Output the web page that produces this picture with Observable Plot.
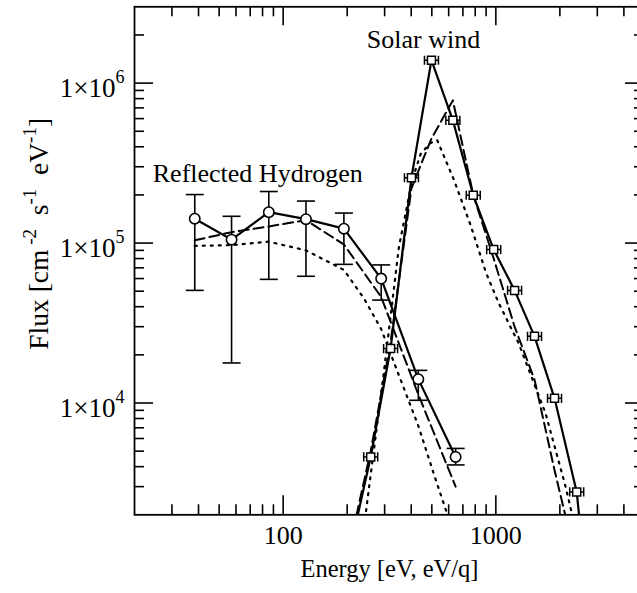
<!DOCTYPE html>
<html><head><meta charset="utf-8">
<script src="https://cdn.jsdelivr.net/npm/d3@7"></script>
<script src="https://cdn.jsdelivr.net/npm/@observablehq/plot@0.6"></script>
<style>html,body{margin:0;padding:0;background:#fff;overflow:hidden}</style>
</head><body><div id="chart"></div>
<script>
// ---- data ----
const reflEnergy   = [38.4, 57.2, 85.6, 128, 193, 289, 432, 647];
const reflFlux     = [1.42e5, 1.05e5, 1.56e5, 1.41e5, 1.23e5, 6.0e4, 1.41e4, 4.6e3];
const reflErrHigh  = [2.01e5, 1.47e5, 2.10e5, 1.83e5, 1.54e5, 7.3e4, 1.60e4, 5.2e3];
const reflErrLow   = [5.06e4, 1.78e4, 5.93e4, 6.2e4, 7.36e4, 4.4e4, 1.04e4, 4.1e3];
const reflModelA   = [1.04e5, 1.17e5, 1.27e5, 1.39e5, 9.8e4, 4.6e4, 1.13e4, 3.0e3];
const reflModelBEnergy = [38.4, 57.2, 85.6, 128, 193, 240, 289, 343, 432, 511, 600];
const reflModelB       = [9.6e4, 9.7e4, 1.02e5, 9.0e4, 6.8e4, 4.5e4, 2.9e4, 1.6e4, 7.2e3, 3.6e3, 1.9e3];

const swEnergy = [206, 258, 320, 401, 498, 628, 783, 977, 1225, 1520, 1888, 2400, 3000];
const swFlux   = [1.2e3, 4.6e3, 2.19e4, 2.56e5, 1.39e6, 5.85e5, 1.99e5, 9.1e4, 5.06e4, 2.61e4, 1.07e4, 2.78e3, 1.5e2];
const swModelA = [1.3e3, 5.0e3, 2.4e4, 2.2e5, 4.5e5, 7.8e5, 2.0e5, 8.0e4, 3.0e4, 1.4e4, 3.8e3, 1.0e3, 1.0e2];
const swModelBEnergy = [220, 244, 297, 350, 404, 443, 490, 530, 634, 760, 900, 1033, 1282, 1714, 2128, 2500];
const swModelB       = [6e2, 2.0e3, 1.53e4, 9.4e4, 2.47e5, 3.6e5, 4.2e5, 4.4e5, 2.5e5, 1.3e5, 6.5e4, 4.2e4, 2.35e4, 8.6e3, 3.0e3, 1.2e3];

const annotations = [
  {label: "Solar wind", x: 457, y: 1.65e6},
  {label: "Reflected Hydrogen", x: 76, y: 2.4e5}
];

const xDomain = [20, 5000];
const yDomain = [2000, 3e6];
const xMajor = [100, 1000];
const xMinor = [30, 40, 50, 60, 70, 80, 90, 200, 300, 400, 500, 600, 700, 800, 900, 2000, 3000, 4000];
const yMajor = [1e4, 1e5, 1e6];
const yMinor = [3e3, 4e3, 5e3, 6e3, 7e3, 8e3, 9e3, 2e4, 3e4, 4e4, 5e4, 6e4, 7e4, 8e4, 9e4,
                2e5, 3e5, 4e5, 5e5, 6e5, 7e5, 8e5, 9e5, 2e6];
const xTitle = "Energy [eV, eV/q]";
const yTitleParts = [["Flux [cm", false], [" -2", true], ["  s", false], ["-1", true], ["  eV", false], ["-1", true], ["]", false]];

// ---- layout ----
const W = 637, H = 593;
const mL = 134, mR = -7, mT = 6.3, mB = 78.7;
const plotW = W - mL - mR, plotH = H - mT - mB;
const MAJ = 19, MIN = 10;
const FONT = "Liberation Serif, Times New Roman, serif";
const FS = 26;

const refl = reflEnergy.map((e, i) => ({e, f: reflFlux[i], lo: reflErrLow[i], hi: reflErrHigh[i], m: reflModelA[i]}));
const reflB = reflModelBEnergy.map((e, i) => ({e, f: reflModelB[i]}));
const sw = swEnergy.map((e, i) => ({e, f: swFlux[i], m: swModelA[i]}));
const swB = swModelBEnergy.map((e, i) => ({e, f: swModelB[i]}));

const capSymbol = {draw(ctx) { ctx.moveTo(-9, 0); ctx.lineTo(9, 0); }};
const sqSymbol = {draw(ctx) {
  const s = 4, b = 7, c = 4.6;
  ctx.moveTo(-s, -s); ctx.lineTo(s, -s); ctx.lineTo(s, s); ctx.lineTo(-s, s); ctx.closePath();
  ctx.moveTo(-b, 0); ctx.lineTo(-s, 0); ctx.moveTo(s, 0); ctx.lineTo(b, 0);
  ctx.moveTo(-b, -c); ctx.lineTo(-b, c); ctx.moveTo(b, -c); ctx.lineTo(b, c);
}};

const lineStyle = {stroke: "black", strokeWidth: 2.2, clip: true};
const dashed = {...lineStyle, strokeWidth: 2, strokeDasharray: "10,5"};
const dotted = {...lineStyle, strokeWidth: 2.2, strokeDasharray: "2,6"};
const tick = {stroke: "black", strokeWidth: 1.6};

const plot = Plot.plot({
  width: W, height: H,
  marginLeft: mL, marginRight: mR, marginTop: mT, marginBottom: mB,
  x: {type: "log", domain: xDomain, axis: null},
  y: {type: "log", domain: yDomain, axis: null},
  style: {fontFamily: FONT, background: "white", color: "black"},
  marks: [
    // ticks on all four sides, pointing inward
    Plot.tickX(xMajor, {x: d => d, insetTop: plotH - MAJ, ...tick}),
    Plot.tickX(xMinor, {x: d => d, insetTop: plotH - MIN, ...tick}),
    Plot.tickX(xMajor, {x: d => d, insetBottom: plotH - MAJ, ...tick}),
    Plot.tickX(xMinor, {x: d => d, insetBottom: plotH - MIN, ...tick}),
    Plot.tickY(yMajor, {y: d => d, insetRight: plotW - MAJ, ...tick}),
    Plot.tickY(yMinor, {y: d => d, insetRight: plotW - MIN, ...tick}),
    Plot.tickY(yMajor, {y: d => d, insetLeft: plotW - MAJ, ...tick}),
    Plot.tickY(yMinor, {y: d => d, insetLeft: plotW - MIN, ...tick}),
    Plot.frame({stroke: "black", strokeWidth: 1.8}),

    // model curves
    Plot.line(reflB, {x: "e", y: "f", ...dotted}),
    Plot.line(swB, {x: "e", y: "f", ...dotted}),
    Plot.line(refl, {x: "e", y: "m", ...dashed}),
    Plot.line(sw, {x: "e", y: "m", ...dashed}),

    // observed
    Plot.line(refl, {x: "e", y: "f", ...lineStyle}),
    Plot.line(sw, {x: "e", y: "f", ...lineStyle}),
    Plot.ruleX(refl, {x: "e", y1: "lo", y2: "hi", stroke: "black", strokeWidth: 1.6}),
    Plot.dot(refl, {x: "e", y: "hi", symbol: capSymbol, stroke: "black", strokeWidth: 1.6, fill: "none"}),
    Plot.dot(refl, {x: "e", y: "lo", symbol: capSymbol, stroke: "black", strokeWidth: 1.6, fill: "none"}),
    Plot.dot(refl, {x: "e", y: "f", r: 5.2, fill: "white", stroke: "black", strokeWidth: 1.6}),
    Plot.dot(sw.filter(d => d.f >= yDomain[0]), {x: "e", y: "f", symbol: sqSymbol, fill: "white", stroke: "black", strokeWidth: 1.5}),

    // annotations
    Plot.text(annotations, {x: "x", y: "y", text: "label", textAnchor: "middle", lineAnchor: "bottom", fontSize: FS, fill: "black"}),

    // tick labels
    Plot.text(xMajor, {x: d => d, frameAnchor: "bottom", lineAnchor: "top", dy: 11, text: d => String(d), fontSize: FS, fill: "black"}),
    Plot.text(yMajor, {y: d => d, frameAnchor: "left", textAnchor: "end", lineAnchor: "bottom", dx: -10, dy: 14,
      text: d => "1×10^" + Math.round(Math.log10(d)), fontSize: 27, fill: "black"}),

    // axis titles
    Plot.text([xTitle], {frameAnchor: "bottom", lineAnchor: "bottom", dy: 62.5, text: d => d, fontSize: 24.5, fill: "black"}),
    Plot.text([yTitleParts.map(p => p[0]).join("")], {frameAnchor: "left", rotate: -90, textAnchor: "middle", lineAnchor: "bottom",
      dx: -87, dy: -27, text: d => d, fontSize: 27.5, fill: "black"})
  ]
});

const NS = "http://www.w3.org/2000/svg";
function tspan(parent, str, attrs) {
  const t = document.createElementNS(NS, "tspan");
  for (const k in attrs) t.setAttribute(k, attrs[k]);
  t.textContent = str;
  parent.appendChild(t);
}
const yTitleText = yTitleParts.map(p => p[0]).join("");
plot.querySelectorAll("text").forEach(t => {
  const s = t.textContent;
  if (s.includes("^")) {
    // superscripts in y tick labels
    const [base, exp] = s.split("^");
    t.textContent = "";
    tspan(t, base, {});
    tspan(t, exp, {dy: -14, "font-size": 18});
  } else if (s === yTitleText) {
    // superscripts in y title
    t.textContent = "";
    t.setAttribute("xml:space", "preserve");
    t.style.whiteSpace = "pre";
    let up = false;
    yTitleParts.forEach(([str, sup]) => {
      const attrs = {};
      if (sup && !up) { attrs.dy = -12; up = true; }
      else if (!sup && up) { attrs.dy = 12; up = false; }
      if (sup) attrs["font-size"] = 19;
      tspan(t, str, attrs);
    });
  }
});

document.getElementById("chart").appendChild(plot);
</script>
</body></html>
